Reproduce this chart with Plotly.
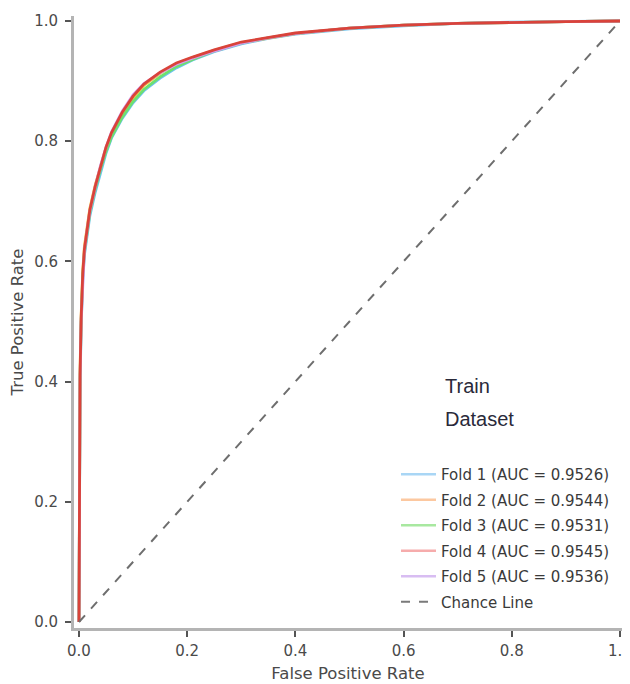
import plotly.graph_objects as go

# ---- data ----
fpr = [0, 0.0005, 0.002, 0.004, 0.007, 0.01, 0.015, 0.02, 0.03, 0.04, 0.05, 0.06,
       0.08, 0.1, 0.12, 0.15, 0.18, 0.21, 0.25, 0.3, 0.35, 0.4, 0.5, 0.6, 0.7, 0.8, 0.9, 1.0]
tpr_fold1 = [0, 0.19, 0.39, 0.49, 0.57, 0.61, 0.645, 0.675, 0.715, 0.75, 0.78, 0.805,
             0.838, 0.864, 0.884, 0.905, 0.922, 0.935, 0.949, 0.962, 0.971, 0.978, 0.987, 0.992, 0.996, 0.998, 0.999, 1.0]
tpr_fold2 = [0, 0.21, 0.42, 0.51, 0.585, 0.625, 0.658, 0.688, 0.727, 0.76, 0.789, 0.812,
             0.846, 0.872, 0.893, 0.913, 0.929, 0.939, 0.951, 0.964, 0.972, 0.979, 0.988, 0.993, 0.996, 0.998, 0.999, 1.0]
tpr_fold3 = [0, 0.2, 0.4, 0.5, 0.575, 0.615, 0.65, 0.68, 0.72, 0.754, 0.783, 0.807,
             0.84, 0.866, 0.886, 0.907, 0.924, 0.936, 0.95, 0.963, 0.972, 0.979, 0.988, 0.993, 0.996, 0.998, 0.999, 1.0]
tpr_fold4 = [0, 0.2, 0.41, 0.505, 0.58, 0.62, 0.655, 0.685, 0.725, 0.76, 0.79, 0.814,
             0.848, 0.875, 0.895, 0.915, 0.93, 0.94, 0.952, 0.965, 0.973, 0.98, 0.988, 0.993, 0.996, 0.998, 0.999, 1.0]
tpr_fold5 = [0, 0.19, 0.4, 0.5, 0.575, 0.617, 0.652, 0.683, 0.724, 0.76, 0.79, 0.815,
             0.85, 0.877, 0.896, 0.914, 0.928, 0.938, 0.95, 0.963, 0.972, 0.979, 0.988, 0.993, 0.996, 0.998, 0.999, 1.0]

fold_names = ["Fold 1 (AUC = 0.9526)", "Fold 2 (AUC = 0.9544)", "Fold 3 (AUC = 0.9531)",
              "Fold 4 (AUC = 0.9545)", "Fold 5 (AUC = 0.9536)"]
fold_tprs = [tpr_fold1, tpr_fold2, tpr_fold3, tpr_fold4, tpr_fold5]
line_colors = ["#6cc3f0", "#f5c040", "#6ee06e", "#d9433a", "#d49af0"]
legend_colors = ["#a9d6f5", "#fcc8a0", "#a8e8a0", "#f6acac", "#d8bdf2"]
chance_x = [0, 1]
chance_y = [0, 1]

fig = go.Figure()

# curves (draw order: fold 4 on top)
for i in [0, 1, 2, 4, 3]:
    fig.add_trace(go.Scatter(x=fpr, y=fold_tprs[i], mode="lines",
                             line=dict(color=line_colors[i], width=2.8),
                             showlegend=False, hoverinfo="skip"))

fig.add_trace(go.Scatter(x=chance_x, y=chance_y, mode="lines",
                         line=dict(color="#6e6e6e", width=2, dash="dash"),
                         showlegend=False))

# legend entries
for i in range(5):
    fig.add_trace(go.Scatter(x=[None], y=[None], mode="lines", name=fold_names[i],
                             line=dict(color=legend_colors[i], width=2.5),
                             legendgroup=f"g{i}"))
fig.add_trace(go.Scatter(x=[None], y=[None], mode="lines", name="Chance Line",
                         line=dict(color="#7a7a7a", width=2, dash="dash"),
                         legendgroup="g5"))

fig.add_annotation(x=0.672, y=0.392, xref="x", yref="y", text="Train", showarrow=False,
                   xanchor="left", yanchor="middle",
                   font=dict(family="Liberation Sans, Arial", size=20, color="#2a2a3a"))
fig.add_annotation(x=0.672, y=0.337, xref="x", yref="y", text="Dataset", showarrow=False,
                   xanchor="left", yanchor="middle",
                   font=dict(family="Liberation Sans, Arial", size=20, color="#2a2a3a"))

axis_common = dict(showgrid=False, zeroline=False, showline=True, linecolor="#b4b4b4",
                   linewidth=3, ticks="outside", ticklen=6, tickwidth=1.5, tickcolor="#555",
                   tickfont=dict(family="DejaVu Sans", size=15, color="#4a4a4a"),
                   tickformat=".1f", dtick=0.2, automargin=False, ticklabeloverflow="allow")

# page body adds an 8px offset; margins compensate for it
fig.update_layout(
    width=630, height=684,
    margin=dict(l=66, r=16, t=8, b=64),
    plot_bgcolor="white", paper_bgcolor="white",
    xaxis=dict(range=[-0.0092, 1.0037], ticklabelstandoff=1,
               title=dict(text="False Positive Rate", standoff=9,
               font=dict(family="DejaVu Sans", size=16.5, color="#4a4a4a")), **axis_common),
    yaxis=dict(range=[-0.01, 1.0083], ticklabelstandoff=4,
               title=dict(text="True Positive Rate", standoff=10,
               font=dict(family="DejaVu Sans", size=16.5, color="#4a4a4a")), **axis_common),
    legend=dict(x=0.5876, y=0.2778, xanchor="left", yanchor="top",
                traceorder="grouped", tracegroupgap=3, itemwidth=35,
                bgcolor="rgba(255,255,255,0)",
                font=dict(family="DejaVu Sans", size=15, color="#3a3a3a")),
    showlegend=True,
)

fig.write_html("out.html")
